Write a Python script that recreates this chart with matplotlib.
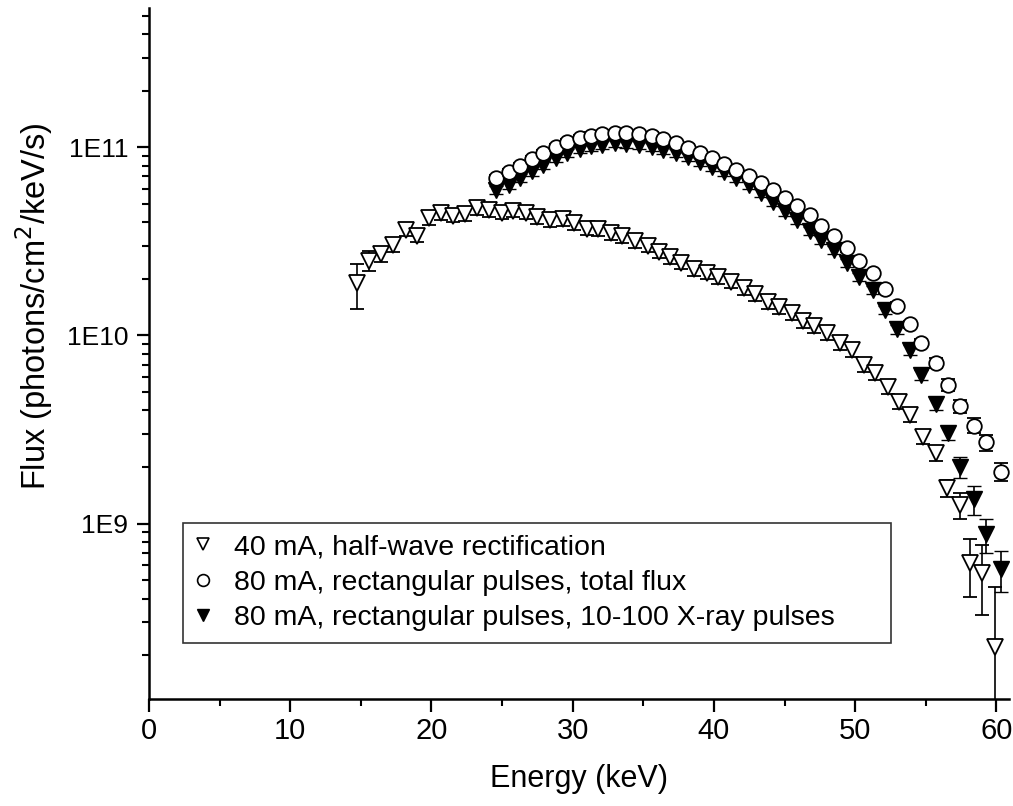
import matplotlib

matplotlib.use("Agg")
import matplotlib.pyplot as plt
from matplotlib import font_manager
from matplotlib.lines import Line2D
import numpy as np

# 40 mA, half-wave rectification (flux in units of 1E10 photons/cm2/keV/s)
energy_hw = [14.7, 15.6, 16.4, 17.3, 18.2, 19.0, 19.8, 20.7, 21.5, 22.4,
             23.2, 24.1, 25.0, 25.8, 26.7, 27.5, 28.4, 29.3, 30.1, 31.0,
             31.8, 32.7, 33.5, 34.4, 35.3, 36.1, 36.9, 37.7, 38.6, 39.5,
             40.3, 41.2, 42.1, 42.9, 43.8, 44.6, 45.5, 46.3, 47.1, 48.0,
             48.9, 49.8, 50.6, 51.4, 52.3, 53.1, 53.9, 54.8, 55.7, 56.5,
             57.4, 58.1, 59.0, 59.9]
flux_hw = [1.89, 2.50, 2.71, 3.03, 3.65, 3.39, 4.21, 4.47, 4.34, 4.43,
           4.76, 4.64, 4.49, 4.60, 4.50, 4.26, 4.09, 4.15, 3.96, 3.70,
           3.68, 3.50, 3.36, 3.16, 3.00, 2.79, 2.60, 2.44, 2.25, 2.16,
           2.04, 1.93, 1.78, 1.66, 1.51, 1.41, 1.31, 1.19, 1.12, 1.03,
           0.908, 0.838, 0.698, 0.630, 0.535, 0.445, 0.378, 0.290, 0.237, 0.154,
           0.126, 0.0615, 0.0548, 0.0221]
err_hw = [0.50, 0.30, 0.25, 0.25, 0.29, 0.27, 0.33, 0.35, 0.34, 0.35,
          0.37, 0.36, 0.35, 0.36, 0.35, 0.33, 0.32, 0.32, 0.31, 0.29,
          0.29, 0.27, 0.26, 0.25, 0.23, 0.22, 0.20, 0.19, 0.18, 0.17,
          0.16, 0.15, 0.14, 0.13, 0.12, 0.11, 0.10, 0.095, 0.09, 0.083,
          0.075, 0.07, 0.058, 0.052, 0.045, 0.038, 0.033, 0.026, 0.022, 0.016,
          0.020, 0.021, 0.022, 0.024]

# 80 mA, rectangular pulses: shared energy grid
energy_rp = [24.6, 25.5, 26.3, 27.1, 27.9, 28.8, 29.6, 30.5, 31.3, 32.1,
             33.0, 33.8, 34.7, 35.6, 36.4, 37.3, 38.2, 39.0, 39.9, 40.7,
             41.6, 42.5, 43.3, 44.2, 45.0, 45.9, 46.8, 47.6, 48.5, 49.4,
             50.3, 51.3, 52.1, 53.0, 53.9, 54.7, 55.7, 56.6, 57.4, 58.4,
             59.3, 60.3]
flux_total = [6.87, 7.36, 7.91, 8.67, 9.33, 10.04, 10.62, 11.21, 11.53, 11.81,
              11.91, 11.91, 11.77, 11.53, 11.07, 10.52, 9.95, 9.36, 8.75, 8.18,
              7.60, 7.02, 6.48, 5.95, 5.39, 4.89, 4.38, 3.83, 3.39, 2.91,
              2.49, 2.15, 1.76, 1.44, 1.15, 0.910, 0.712, 0.546, 0.422, 0.332,
              0.270, 0.189]
err_total = [0.27, 0.29, 0.32, 0.35, 0.37, 0.40, 0.42, 0.45, 0.46, 0.47,
             0.48, 0.48, 0.47, 0.46, 0.44, 0.42, 0.40, 0.37, 0.35, 0.33,
             0.30, 0.28, 0.26, 0.24, 0.22, 0.20, 0.18, 0.15, 0.14, 0.12,
             0.10, 0.09, 0.07, 0.06, 0.05, 0.045, 0.043, 0.038, 0.034, 0.030,
             0.027, 0.021]
flux_pulses = [5.95, 6.33, 6.87, 7.45, 8.08, 8.77, 9.33, 9.79, 10.11, 10.32,
               10.54, 10.45, 10.32, 10.04, 9.71, 9.30, 8.86, 8.38, 7.89, 7.42,
               6.89, 6.33, 5.73, 5.14, 4.56, 4.12, 3.61, 3.23, 2.85, 2.42,
               2.04, 1.75, 1.37, 1.08, 0.838, 0.617, 0.433, 0.302, 0.200, 0.135,
               0.088, 0.0571]
err_pulses = [0.30, 0.32, 0.34, 0.37, 0.40, 0.44, 0.47, 0.49, 0.51, 0.52,
              0.53, 0.52, 0.52, 0.50, 0.49, 0.47, 0.44, 0.42, 0.39, 0.37,
              0.34, 0.32, 0.29, 0.26, 0.23, 0.21, 0.18, 0.16, 0.14, 0.12,
              0.10, 0.09, 0.07, 0.06, 0.05, 0.04, 0.03, 0.025, 0.026, 0.024,
              0.018, 0.014]

labels = [
    "40 mA, half-wave rectification",
    "80 mA, rectangular pulses, total flux",
    "80 mA, rectangular pulses, 10-100 X-ray pulses",
]
UNIT = 1e10

installed = {f.name for f in font_manager.fontManager.ttflist}
NARROW = "Liberation Sans Narrow" if "Liberation Sans Narrow" in installed else "Liberation Sans"
plt.rcParams["font.family"] = ["Liberation Sans", "DejaVu Sans"]

fig = plt.figure(figsize=(10.13, 8.06), dpi=100)
ax = fig.add_axes([0.1471, 0.1328, 0.849, 0.8573])

err_style = dict(ecolor="black", elinewidth=1.2, capsize=5, capthick=1.2, linestyle="none")

ax.errorbar(np.array(energy_hw), np.array(flux_hw) * UNIT, yerr=np.array(err_hw) * UNIT,
            marker="v", markersize=11.5, mfc="white", mec="black", mew=1.3, zorder=3, **err_style)
ax.errorbar(np.array(energy_rp), np.array(flux_pulses) * UNIT, yerr=np.array(err_pulses) * UNIT,
            marker="v", markersize=11.5, mfc="black", mec="black", mew=1.0, zorder=4, **err_style)
ax.errorbar(np.array(energy_rp), np.array(flux_total) * UNIT, yerr=np.array(err_total) * UNIT,
            marker="o", markersize=10.5, mfc="white", mec="black", mew=1.3, zorder=5, **err_style)

ax.set_yscale("log", nonpositive="clip")
ax.set_xlim(0, 60.9)
ax.set_ylim(1.17e8, 5.5e11)

ax.spines["top"].set_visible(False)
ax.spines["right"].set_visible(False)
ax.spines["left"].set_linewidth(1.8)
ax.spines["bottom"].set_linewidth(1.8)

ax.set_xticks([0, 10, 20, 30, 40, 50, 60])
ax.set_xticks([5, 15, 25, 35, 45, 55], minor=True)
ax.set_yticks([1e9, 1e10, 1e11])
ax.set_yticklabels(["1E9", "1E10", "1E11"])
ax.yaxis.set_minor_locator(matplotlib.ticker.LogLocator(base=10, subs=np.arange(2, 10)))
ax.yaxis.set_minor_formatter(matplotlib.ticker.NullFormatter())

ax.tick_params(axis="both", which="major", direction="out", length=9, width=1.6)
ax.tick_params(axis="both", which="minor", direction="out", length=5, width=1.5)
ax.tick_params(axis="y", labelsize=19, pad=6)
ax.tick_params(axis="x", labelsize=21, pad=4)
for lab in ax.get_xticklabels():
    lab.set_family(NARROW)

ax.set_xlabel("Energy (keV)", fontsize=22, family=NARROW, labelpad=14)
ax.set_ylabel("Flux (photons/cm$^2$/keV/s)", fontsize=23.5)
ax.yaxis.set_label_coords(-0.109, 0.569)

handles = [
    Line2D([], [], linestyle="none", marker="v", markersize=8.5, mfc="white", mec="black", mew=1.2),
    Line2D([], [], linestyle="none", marker="o", markersize=8.5, mfc="white", mec="black", mew=1.2),
    Line2D([], [], linestyle="none", marker="v", markersize=8.5, mfc="black", mec="black"),
]
leg = ax.legend(handles, labels, loc="upper left", bbox_to_anchor=(0.0396, 0.0854, 0.823, 0.1693),
                mode="expand", borderaxespad=0, fontsize=20.5, frameon=True, fancybox=False,
                handlelength=0.6, handletextpad=0.8, labelspacing=0.33, borderpad=0.4)
leg.get_frame().set_edgecolor("black")
leg.get_frame().set_linewidth(1.2)

fig.savefig("out.png", dpi=100, facecolor="white")
